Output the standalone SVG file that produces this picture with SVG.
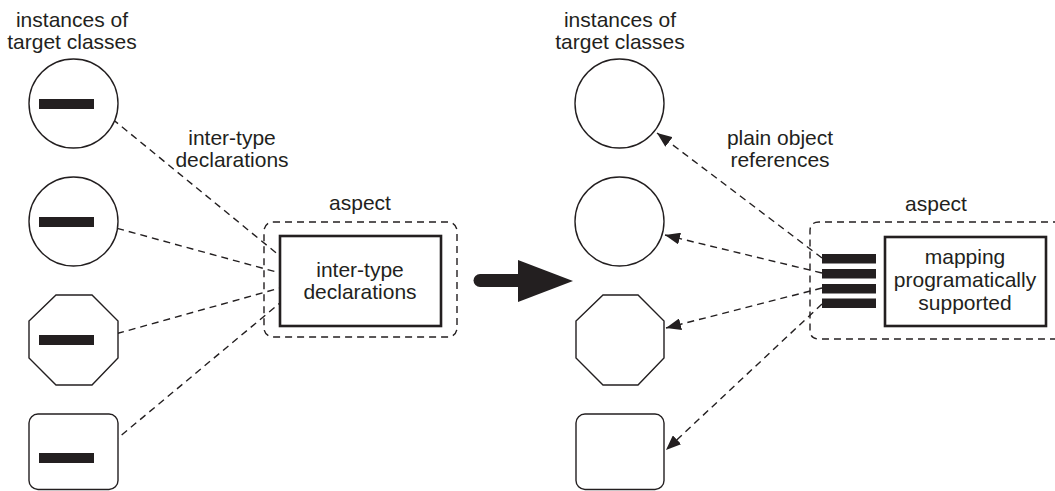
<svg xmlns="http://www.w3.org/2000/svg" width="1055" height="491" viewBox="0 0 1055 491">
<defs>
<style>
text{font-family:"Liberation Sans",Arial,Helvetica,sans-serif;font-size:21px;fill:#231f20;text-anchor:middle}
.shape{fill:#fff;stroke:#231f20;stroke-width:1.4}
.bar{fill:#231f20}
.dash{fill:none;stroke:#231f20;stroke-width:1.4;stroke-dasharray:7 5}
.box{fill:#fff;stroke:#231f20;stroke-width:2.6}
</style>
<marker id="ah" markerUnits="userSpaceOnUse" markerWidth="16" markerHeight="12" refX="15" refY="6" orient="auto">
<path d="M0,0 L15,6 L0,12 z" fill="#231f20"/>
</marker>
</defs>
<rect width="1055" height="491" fill="#fff"/>

<g id="left-header"><text x="72" y="27">instances of</text><text x="72" y="49">target classes</text></g>
<g id="left-itd-label"><text x="232" y="145">inter-type</text><text x="232" y="167">declarations</text></g>
<g id="left-aspect-label"><text x="360" y="210">aspect</text></g>

<g id="left-aspect"><rect class="dash" x="264" y="222" width="193" height="115" rx="9"/></g>
<g id="left-itd-box"><rect class="box" x="280" y="236" width="161" height="90"/><text x="360" y="277">inter-type</text><text x="360" y="299">declarations</text></g>

<g id="connectors">
<line class="dash" x1="94" y1="104" x2="280" y2="256"/>
<line class="dash" x1="94" y1="222" x2="280" y2="273"/>
<line class="dash" x1="94" y1="340" x2="280" y2="288"/>
<line class="dash" x1="94" y1="458" x2="280" y2="303"/>
<line class="dash" x1="822" y1="258" x2="657" y2="133" marker-end="url(#ah)"/>
<line class="dash" x1="822" y1="273" x2="665" y2="235" marker-end="url(#ah)"/>
<line class="dash" x1="822" y1="288" x2="666" y2="328" marker-end="url(#ah)"/>
<line class="dash" x1="822" y1="304" x2="666" y2="450" marker-end="url(#ah)"/>
</g>

<g id="left-obj1"><circle class="shape" cx="73.5" cy="103.5" r="44.5"/><rect class="bar" x="39" y="99" width="55" height="10"/></g>
<g id="left-obj2"><circle class="shape" cx="73.5" cy="221.5" r="44.5"/><rect class="bar" x="39" y="217" width="55" height="10"/></g>
<g id="left-obj3"><polygon class="shape" points="56,295 92,295 118,321 118,358 92,385 56,385 29,358 29,321"/><rect class="bar" x="39" y="335" width="55" height="10"/></g>
<g id="left-obj4"><rect class="shape" x="29" y="414" width="89" height="75.5" rx="9"/><rect class="bar" x="39" y="453" width="55" height="10"/></g>

<g id="transform-arrow">
<line x1="480" y1="280.5" x2="524" y2="280.5" stroke="#231f20" stroke-width="13" stroke-linecap="round"/>
<polygon points="518,260 573,281 518,302" fill="#231f20"/>
</g>

<g id="right-header"><text x="620" y="27">instances of</text><text x="620" y="49">target classes</text></g>
<g id="right-por-label"><text x="780" y="145">plain object</text><text x="780" y="167">references</text></g>
<g id="right-aspect-label"><text x="936" y="211">aspect</text></g>

<g id="right-obj1"><circle class="shape" cx="619.5" cy="103.5" r="44.5"/></g>
<g id="right-obj2"><circle class="shape" cx="619.5" cy="221.5" r="44.5"/></g>
<g id="right-obj3"><polygon class="shape" points="603,295 638,295 664,321 664,358 638,385 603,385 576,358 576,321"/></g>
<g id="right-obj4"><rect class="shape" x="576" y="414" width="88" height="75.5" rx="9"/></g>

<g id="right-aspect"><path class="dash" d="M1060,222 H819 Q810,222 810,231 V330 Q810,339 819,339 H1060"/>
<rect class="bar" x="822" y="254" width="54" height="9.5"/>
<rect class="bar" x="822" y="269" width="54" height="9.5"/>
<rect class="bar" x="822" y="284" width="54" height="9.5"/>
<rect class="bar" x="822" y="298.5" width="54" height="9.5"/>
</g>
<g id="right-mapping-box"><rect class="box" x="885" y="237" width="161" height="89"/><text x="965" y="264">mapping</text><text x="965" y="287">programatically</text><text x="965" y="310">supported</text></g>
</svg>
